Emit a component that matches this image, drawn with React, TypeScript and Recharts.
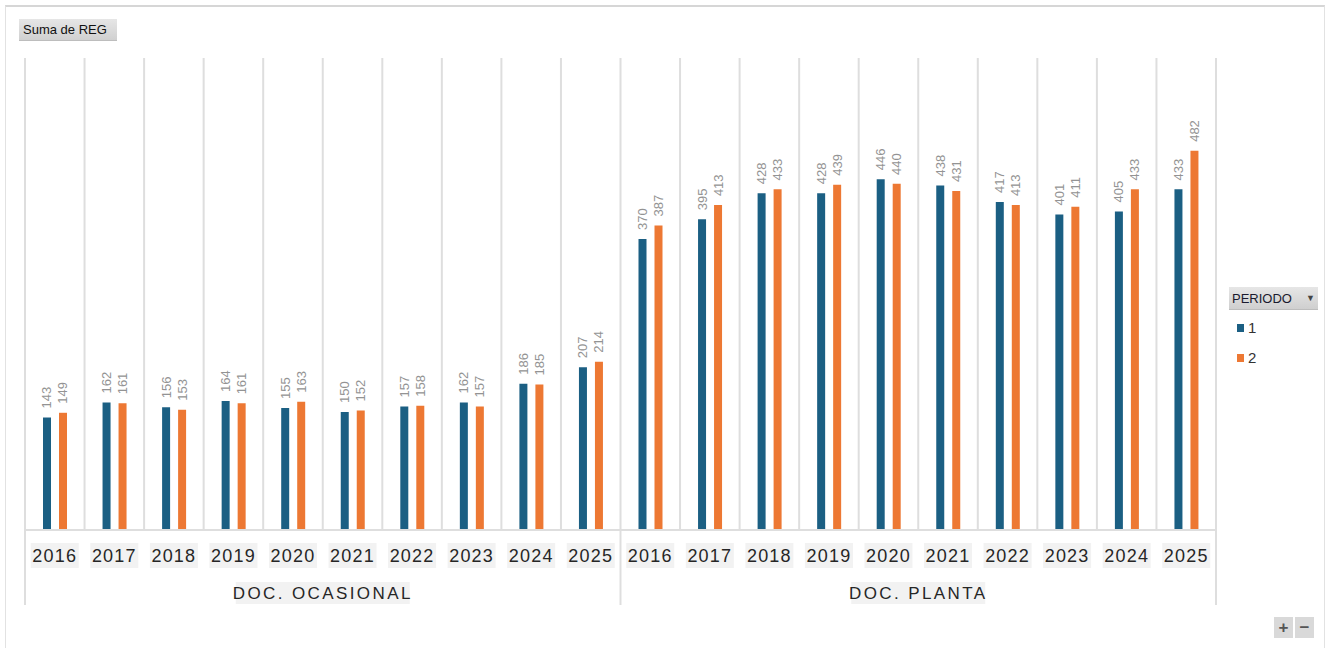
import { BarChart, Bar, XAxis, YAxis, CartesianGrid, LabelList, Legend } from 'recharts';

const years = ['2016', '2017', '2018', '2019', '2020', '2021', '2022', '2023', '2024', '2025'];
const groups = ['DOC. OCASIONAL', 'DOC. PLANTA'];

// Suma de REG, periodo 1 y 2 por grupo
const ocasionalP1 = [143, 162, 156, 164, 155, 150, 157, 162, 186, 207];
const ocasionalP2 = [149, 161, 153, 161, 163, 152, 158, 157, 185, 214];
const plantaP1 = [370, 395, 428, 428, 446, 438, 417, 401, 405, 433];
const plantaP2 = [387, 413, 433, 439, 440, 431, 413, 411, 433, 482];

const seriesByGroup = [
  [ocasionalP1, ocasionalP2],
  [plantaP1, plantaP2],
];

const data = groups.flatMap((g, gi) =>
  years.map((y, yi) => ({
    key: `${g}|${y}`,
    year: y,
    group: g,
    p1: seriesByGroup[gi][0][yi],
    p2: seriesByGroup[gi][1][yi],
  }))
);

const BLUE = '#1b5f83';
const ORANGE = '#ed7833';
const GRID = '#dedede';

const AxisTick = (props: any) => {
  const { x, y, index, payload } = props;
  const half = payload?.offset || 29.8;
  const row = data[index];
  if (!row) return null;
  const showGroup = index % 10 === 4;
  return (
    <g>
      <rect x={x - 24} y={y + 13} width={48} height={25} fill="#f2f2f2" />
      <text
        x={x}
        y={y + 26}
        textAnchor="middle"
        dominantBaseline="central"
        fontFamily="'Liberation Sans', Arial, sans-serif"
        fontSize={18}
        letterSpacing={1.2}
        fill="#262626"
      >
        {row.year}
      </text>
      {index % 10 === 0 && (
        <line x1={x - half} x2={x - half} y1={y} y2={y + 75} stroke={GRID} strokeWidth={2} />
      )}
      {index === data.length - 1 && (
        <line x1={x + half} x2={x + half} y1={y} y2={y + 75} stroke={GRID} strokeWidth={2} />
      )}
      {showGroup && (
        <g>
          <rect
            x={x + half - (row.group.length > 12 ? 87 : 67)}
            y={y + 52}
            width={row.group.length > 12 ? 174 : 134}
            height={22}
            fill="#f2f2f2"
          />
          <text
            x={x + half}
            y={y + 63}
            textAnchor="middle"
            dominantBaseline="central"
            fontFamily="'Liberation Sans', Arial, sans-serif"
            fontSize={17}
            letterSpacing={2.4}
            fill="#262626"
          >
            {row.group}
          </text>
        </g>
      )}
    </g>
  );
};

const ValueLabel = (props: any) => {
  const { x, y, width, value } = props;
  const cx = x + width / 2;
  const ty = y - 9;
  return (
    <text
      x={cx}
      y={ty}
      transform={`rotate(-90, ${cx}, ${ty})`}
      textAnchor="start"
      dominantBaseline="central"
      fontFamily="'Liberation Sans', Arial, sans-serif"
      fontSize={13}
      fill="#939393"
    >
      {value}
    </text>
  );
};

const LegendBox = (props: any) => {
  const { payload } = props;
  return (
    <div style={{ fontFamily: "'Liberation Sans', Arial, sans-serif" }}>
      <div
        style={{
          width: 89,
          height: 23,
          boxSizing: 'border-box',
          background: 'linear-gradient(#e6e6e6, #cfcfcf)',
          borderBottom: '1px solid #bdbdbd',
          display: 'flex',
          alignItems: 'center',
          paddingLeft: 3,
          fontSize: 13,
          color: '#1a1a2e',
        }}
      >
        <span>PERIODO</span>
        <span style={{ marginLeft: 14, fontSize: 9, color: '#444' }}>▼</span>
      </div>
      {(payload || []).map((p: any, i: number) => (
        <div
          key={p.value}
          style={{ display: 'flex', alignItems: 'center', marginTop: i === 0 ? 9 : 13, marginLeft: 8 }}
        >
          <span style={{ width: 7, height: 8, background: p.color, display: 'inline-block' }} />
          <span style={{ marginLeft: 4, fontSize: 15, color: '#333' }}>{p.value}</span>
        </div>
      ))}
    </div>
  );
};

export default function App() {
  return (
    <div style={{ position: 'relative', width: 1331, height: 648, overflow: 'hidden', background: '#fff' }}>
      <style>{'body{margin:0}'}</style>
      <div
        style={{
          position: 'absolute',
          left: 5,
          top: 5,
          width: 1320,
          height: 700,
          borderTop: '2px solid #d6d6d6',
          borderLeft: '1px solid #e2e2e2',
          borderRight: '1px solid #e2e2e2',
          boxSizing: 'border-box',
        }}
      />
      <div
        style={{
          position: 'absolute',
          left: 19,
          top: 19,
          width: 98,
          height: 22,
          background: 'linear-gradient(#e6e6e6, #d0d0d0)',
          borderBottom: '1px solid #bdbdbd',
          boxSizing: 'border-box',
          fontFamily: "'Liberation Sans', Arial, sans-serif",
          fontSize: 13,
          color: '#111',
          display: 'flex',
          alignItems: 'center',
          paddingLeft: 4,
        }}
      >
        Suma de REG
      </div>
      <div style={{ position: 'absolute', left: 0, top: 0 }}>
        <BarChart
          width={1331}
          height={648}
          data={data}
          margin={{ top: 58, right: 23, left: 25, bottom: 0 }}
          barGap={8}
        >
          <CartesianGrid
            horizontal={false}
            stroke={GRID}
            strokeWidth={2}
            verticalCoordinatesGenerator={(p: any) => {
              const l = p?.offset?.left ?? 25;
              const w = p?.offset?.width ?? 1191;
              return Array.from({ length: data.length + 1 }, (_, i) => l + (i * w) / data.length);
            }}
          />
          <XAxis
            dataKey="key"
            interval={0}
            tickLine={false}
            tickSize={0}
            tickMargin={0}
            axisLine={{ stroke: GRID, strokeWidth: 2 }}
            tick={<AxisTick />}
            height={118}
          />
          <YAxis hide domain={[0, 600]} />
          <Legend
            layout="vertical"
            verticalAlign="top"
            align="right"
            content={<LegendBox />}
            wrapperStyle={{ position: 'absolute', left: 1229, top: 287, width: 92 }}
          />
          <Bar dataKey="p1" name="1" fill={BLUE} barSize={8} isAnimationActive={false}>
            <LabelList dataKey="p1" content={<ValueLabel />} />
          </Bar>
          <Bar dataKey="p2" name="2" fill={ORANGE} barSize={8} isAnimationActive={false}>
            <LabelList dataKey="p2" content={<ValueLabel />} />
          </Bar>
        </BarChart>
      </div>
      <div style={{ position: 'absolute', left: 1274, top: 617, display: 'flex', gap: 2 }}>
        {['+', '−'].map((s) => (
          <div
            key={s}
            style={{
              width: 19,
              height: 21,
              background: '#d9d9d9',
              color: '#555',
              fontFamily: "'Liberation Sans', Arial, sans-serif",
              fontSize: 17,
              fontWeight: 'bold',
              display: 'flex',
              alignItems: 'center',
              justifyContent: 'center',
            }}
          >
            {s}
          </div>
        ))}
      </div>
    </div>
  );
}
